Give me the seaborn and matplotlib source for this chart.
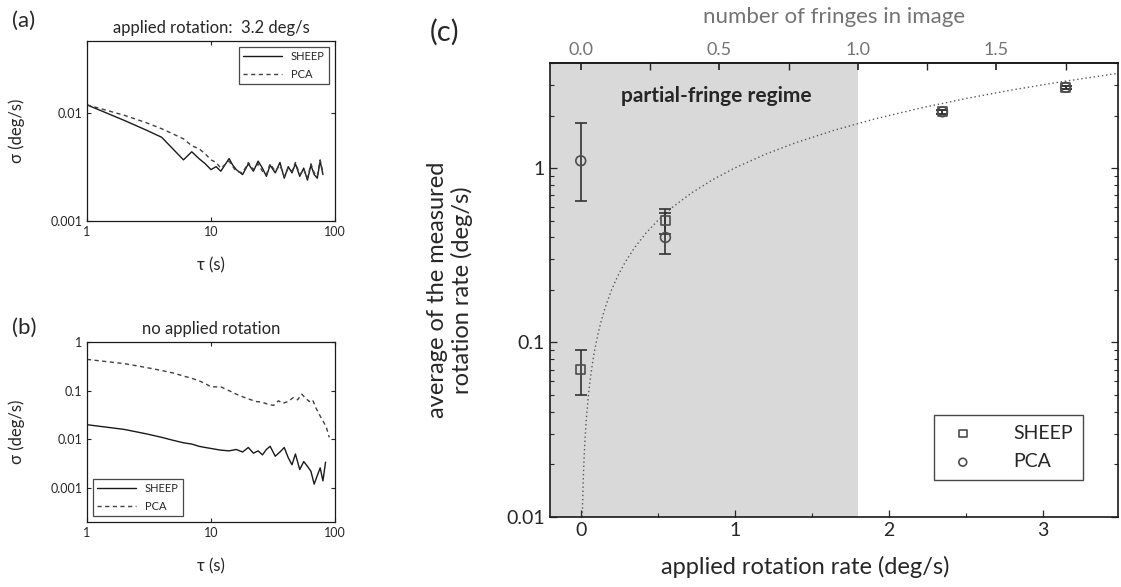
import numpy as np
import pandas as pd
import matplotlib
matplotlib.use("Agg")
import matplotlib.pyplot as plt
import seaborn as sns

sns.set_theme(style="ticks")
plt.rcParams["font.family"] = ["Lato", "DejaVu Sans"]
plt.rcParams["xtick.direction"] = "in"
plt.rcParams["ytick.direction"] = "in"

# (a) applied rotation 3.2 deg/s
tau_a = [1, 2, 3, 4, 5, 6, 7, 8, 9, 10, 11, 12, 14, 15, 16, 18, 20, 22, 24, 26, 28, 30,
         33, 36, 39, 42, 45, 48, 52, 56, 60, 64, 68, 72, 76, 80]
sheep_a = [0.0120, 0.0086, 0.0070, 0.0060, 0.0046, 0.0037, 0.0044, 0.0038, 0.0034, 0.0030,
           0.0032, 0.0029, 0.0038, 0.0033, 0.0030, 0.0027, 0.0034, 0.0029, 0.0036, 0.0031,
           0.0026, 0.0033, 0.0028, 0.0035, 0.0025, 0.0032, 0.0028, 0.0034, 0.0026, 0.0031,
           0.0024, 0.0033, 0.0027, 0.0025, 0.0036, 0.0027]
pca_a = [0.0120, 0.0096, 0.0082, 0.0072, 0.0064, 0.0058, 0.0050, 0.0047, 0.0042, 0.0037,
         0.0035, 0.0031, 0.0036, 0.0032, 0.0029, 0.0028, 0.0035, 0.0030, 0.0034, 0.0029,
         0.0027, 0.0034, 0.0029, 0.0033, 0.0026, 0.0031, 0.0029, 0.0035, 0.0027, 0.0030,
         0.0025, 0.0034, 0.0028, 0.0026, 0.0037, 0.0028]

# (b) no applied rotation
tau_b_sheep = [1, 2, 3, 4, 5, 6, 7, 8, 9, 10, 12, 14, 16, 18, 20, 22, 24, 26, 28, 30, 33,
               36, 39, 42, 45, 48, 52, 56, 60, 64, 68, 72, 76, 80, 84]
sheep_b = [0.020, 0.016, 0.013, 0.011, 0.0095, 0.0085, 0.0080, 0.0072, 0.0068, 0.0065,
           0.0060, 0.0058, 0.0062, 0.0055, 0.0068, 0.0052, 0.0058, 0.0048, 0.0062, 0.0072,
           0.0045, 0.0055, 0.0068, 0.0042, 0.0030, 0.0050, 0.0024, 0.0035, 0.0028, 0.0022,
           0.0012, 0.0018, 0.0026, 0.0014, 0.0034]
tau_b_pca = [1, 2, 3, 4, 5, 6, 7, 8, 9, 10, 12, 14, 16, 18, 20, 23, 26, 29, 32, 35, 38, 42,
             46, 50, 54, 58, 62, 66, 70, 75, 80, 85, 90]
pca_b = [0.44, 0.36, 0.30, 0.26, 0.23, 0.20, 0.18, 0.16, 0.14, 0.12, 0.12, 0.10, 0.085,
         0.075, 0.068, 0.060, 0.058, 0.052, 0.050, 0.062, 0.055, 0.060, 0.072, 0.065, 0.085,
         0.070, 0.060, 0.065, 0.045, 0.032, 0.024, 0.018, 0.011]

# (c) measured vs applied rotation rate
applied = [0.0, 0.55, 2.35, 3.15]
sheep_c = [0.07, 0.50, 2.1, 2.9]
sheep_lo = [0.05, 0.42, 2.05, 2.85]
sheep_hi = [0.09, 0.58, 2.15, 2.95]
pca_c = [1.1, 0.40, 2.1, 2.9]
pca_lo = [0.65, 0.32, 2.05, 2.85]
pca_hi = [1.8, 0.55, 2.15, 2.95]
# measured = applied reference line
ideal = [0.01, 0.012, 0.015, 0.018, 0.022, 0.027, 0.033, 0.04, 0.05, 0.06, 0.075, 0.09,
         0.11, 0.13, 0.16, 0.2, 0.24, 0.29, 0.35, 0.42, 0.5, 0.6, 0.72, 0.86, 1.0, 1.2,
         1.4, 1.65, 1.9, 2.2, 2.5, 2.8, 3.1, 3.5]
fringe_per_rate = 1 / 1.8

fig = plt.figure(figsize=(11.21, 5.87), dpi=100)
ax_a = fig.add_axes([0.0776, 0.6235, 0.2212, 0.3066])
ax_b = fig.add_axes([0.0776, 0.1107, 0.2212, 0.3066])
ax_c = fig.add_axes([0.4906, 0.1193, 0.5067, 0.7734])

def allan_panel(ax, t1, y1, t2, y2, ylim, yticks, leg_loc):
    sns.lineplot(x=t1, y=y1, ax=ax, color="k", lw=1.0, label="SHEEP", estimator=None)
    sns.lineplot(x=t2, y=y2, ax=ax, color="0.25", lw=1.0, linestyle=(0, (3, 2.5)),
                 label="PCA", estimator=None)
    ax.set_xscale("log")
    ax.set_yscale("log")
    ax.set_xlim(1, 100)
    ax.set_ylim(*ylim)
    ax.set_xticks([1, 10, 100])
    ax.set_xticklabels(["1", "10", "100"])
    ax.set_yticks(yticks)
    ax.set_yticklabels([f"{v:g}" for v in yticks])
    ax.minorticks_off()
    ax.tick_params(labelsize=9, length=3, width=0.8, top=True, right=True)
    ax.set_xlabel("τ (s)", fontsize=12)
    ax.set_ylabel("σ (deg/s)", fontsize=12)
    ax.xaxis.set_label_coords(0.5, -0.2)
    ax.yaxis.set_label_coords(-0.25, 0.5)
    for s in ax.spines.values():
        s.set_linewidth(0.9)
        s.set_color("k")
    leg = ax.legend(loc=leg_loc, fontsize=8, frameon=True, fancybox=False,
                    edgecolor="k", handlelength=3.5, borderpad=0.4, labelspacing=0.6)
    leg.get_frame().set_linewidth(0.9)

allan_panel(ax_a, tau_a, sheep_a, tau_a, pca_a, (0.001, 0.047), [0.001, 0.01], "upper right")
allan_panel(ax_b, tau_b_sheep, sheep_b, tau_b_pca, pca_b, (0.0002, 1.0),
            [0.001, 0.01, 0.1, 1], "lower left")
ax_a.set_title("applied rotation:  3.2 deg/s", fontsize=12, pad=6)
ax_b.set_title("no applied rotation", fontsize=12, pad=6)
fig.text(0.011, 0.965, "(a)", fontsize=16, va="center", ha="left")
fig.text(0.011, 0.441, "(b)", fontsize=16, va="center", ha="left")
fig.text(0.383, 0.945, "(c)", fontsize=21, va="center", ha="left")

# panel (c)
ax_c.axvspan(-0.2, 1.0 / fringe_per_rate, color="#d9d9d9", zorder=0, lw=0)
ax_c.plot(ideal, ideal, color="0.35", lw=1.0, ls=(0, (1, 2)), zorder=1)
ax_c.errorbar(applied, sheep_c,
              yerr=[np.subtract(sheep_c, sheep_lo), np.subtract(sheep_hi, sheep_c)],
              fmt="none", ecolor="0.2", elinewidth=1.2, capsize=4, capthick=1.2, zorder=2)
ax_c.errorbar(applied, pca_c,
              yerr=[np.subtract(pca_c, pca_lo), np.subtract(pca_hi, pca_c)],
              fmt="none", ecolor="0.2", elinewidth=1.2, capsize=4, capthick=1.2, zorder=2)
sns.scatterplot(x=applied, y=sheep_c, ax=ax_c, marker="s", s=45, facecolors="none",
                edgecolor="0.3", linewidth=1.2, label="SHEEP", zorder=3)
sns.scatterplot(x=applied, y=pca_c, ax=ax_c, marker="o", s=50, facecolors="none",
                edgecolor="0.3", linewidth=1.2, label="PCA", zorder=3)
ax_c.set_yscale("log")
ax_c.set_xlim(-0.2, 3.49)
ax_c.set_ylim(0.01, 4)
ax_c.set_xticks([0, 1, 2, 3])
ax_c.set_xticks([0.5, 1.5, 2.5], minor=True)
ax_c.set_yticks([0.01, 0.1, 1])
ax_c.set_yticklabels(["0.01", "0.1", "1"])
ax_c.tick_params(which="major", labelsize=14, length=5, width=0.9, right=True)
ax_c.tick_params(which="minor", length=3, width=0.8, right=True)
ax_c.set_xlabel("applied rotation rate (deg/s)", fontsize=17)
ax_c.set_ylabel("average of the measured\nrotation rate (deg/s)", fontsize=17,
                linespacing=1.2)
ax_c.xaxis.set_label_coords(0.45, -0.085)
ax_c.yaxis.set_label_coords(-0.135, 0.5)
for s in ax_c.spines.values():
    s.set_linewidth(1.2)
    s.set_color("k")
ax_c.text(0.88, 2.6, "partial-fringe regime", fontsize=15, fontweight="bold",
          ha="center", va="center")
leg = ax_c.legend(loc="lower right", bbox_to_anchor=(0.955, 0.06), fontsize=14,
                  frameon=True, fancybox=False, edgecolor="k", handletextpad=1.6,
                  markerscale=0.8, borderpad=0.5, labelspacing=0.6)
leg.get_frame().set_linewidth(1.0)

top = ax_c.secondary_xaxis("top", functions=(lambda x: x * fringe_per_rate,
                                              lambda f: f / fringe_per_rate))
top.set_xticks([0.0, 0.5, 1.0, 1.5])
top.set_xticklabels(["0.0", "0.5", "1.0", "1.5"])
top.set_xticks([0.25, 0.75, 1.25, 1.75], minor=True)
top.tick_params(which="major", direction="in", length=5, labelsize=13, labelcolor="0.45")
top.tick_params(which="minor", direction="in", length=5)
top.set_xlabel("number of fringes in image", fontsize=16, color="0.45", labelpad=14)

fig.savefig("out.png", dpi=100)
